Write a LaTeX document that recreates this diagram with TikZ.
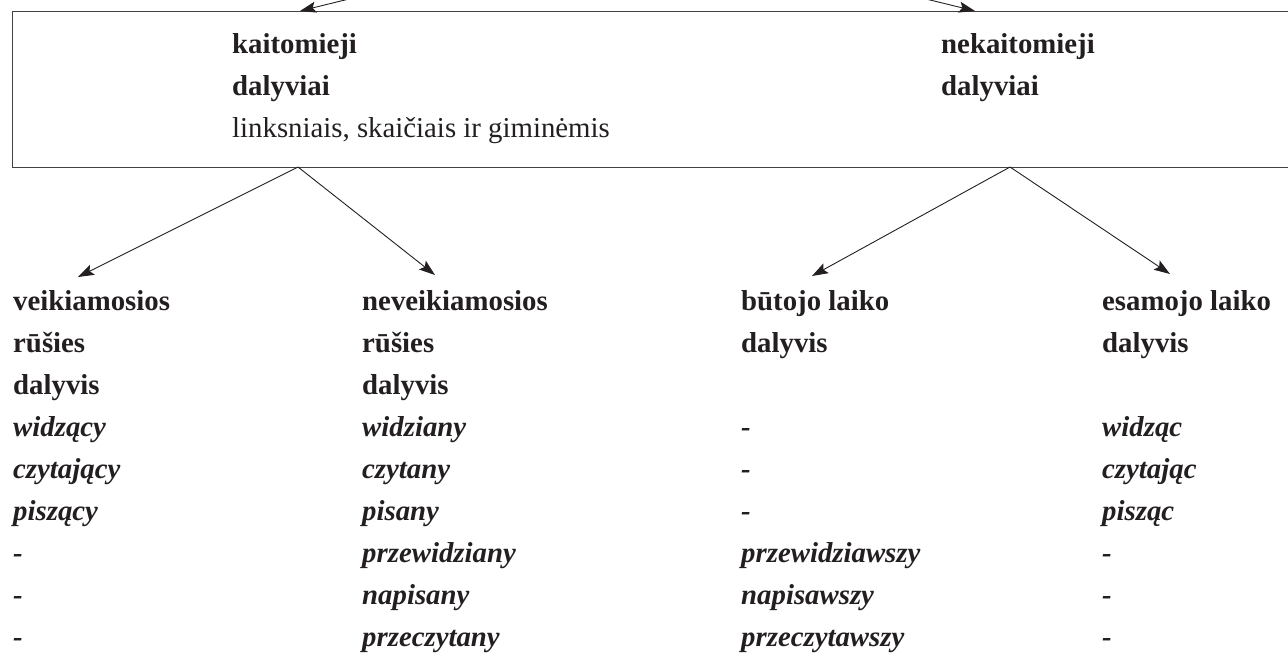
\documentclass[tikz,border=0pt]{standalone}
\usepackage{fontspec}
\setmainfont{Liberation Serif}
\usetikzlibrary{arrows.meta}
\definecolor{ink}{HTML}{231F20}
\begin{document}
\begin{tikzpicture}[x=1pt,y=-1pt,
  conn/.style={draw=ink, line width=0.9pt, -{Stealth[length=16pt,width=11pt,inset=3pt]}},
  boxst/.style={draw=ink!85, line width=1.4pt, anchor=north west, inner sep=0pt},
  head/.style={anchor=base west, inner sep=0pt, text=ink, font=\fontsize{28.8}{34}\selectfont\bfseries},
  plain/.style={anchor=base west, inner sep=0pt, text=ink, font=\fontsize{28.8}{34}\selectfont},
  ital/.style={anchor=base west, inner sep=0pt, text=ink, font=\fontsize{28.8}{34}\selectfont\bfseries\itshape}]
\useasboundingbox (0,0) rectangle (1288,654);
\clip (0,0) rectangle (1288,654);
% main box
\node[boxst, minimum width=1300pt, minimum height=156pt] (box) at (12,11) {};
% box texts
\node[head] (k1) at (232,53) {kaitomieji};
\node[head] (k2) at (232,95) {dalyviai};
\node[plain] (k3) at (232,137) {linksniais, skaičiais ir giminėmis};
\node[head] (n1) at (941,53) {nekaitomieji};
\node[head] (n2) at (941,95) {dalyviai};
% arrows from above
\coordinate (srcTL) at (349,-1);
\coordinate (tipTL) at (300,11);
\coordinate (srcTR) at (926,-1);
\coordinate (tipTR) at (975,11);
\draw[conn] (srcTL) -- (tipTL);
\draw[conn] (srcTR) -- (tipTR);
% arrows down
\coordinate (apexL) at (298,167);
\coordinate (apexR) at (1010,167);
\coordinate (tipA) at (78,277);
\coordinate (tipB) at (435,275);
\coordinate (tipC) at (812,276);
\coordinate (tipD) at (1170,274);
\draw[conn] (apexL) -- (tipA);
\draw[conn] (apexL) -- (tipB);
\draw[conn] (apexR) -- (tipC);
\draw[conn] (apexR) -- (tipD);
% column 1
\foreach \t [count=\i] in {veikiamosios, rūšies, dalyvis}
  \node[head] (a\i) at (13,{310+42*(\i-1)}) {\t};
\foreach \t [count=\i from 4] in {widzący, czytający, piszący, -, -, -}
  \node[ital] (a\i) at (13,{310+42*(\i-1)}) {\t};
% column 2
\foreach \t [count=\i] in {neveikiamosios, rūšies, dalyvis}
  \node[head] (b\i) at (362,{310+42*(\i-1)}) {\t};
\foreach \t [count=\i from 4] in {widziany, czytany, pisany, przewidziany, napisany, przeczytany}
  \node[ital] (b\i) at (362,{310+42*(\i-1)}) {\t};
% column 3
\foreach \t [count=\i] in {būtojo laiko, dalyvis}
  \node[head] (c\i) at (741,{310+42*(\i-1)}) {\t};
\foreach \t [count=\i from 4] in {-, -, -, przewidziawszy, napisawszy, przeczytawszy}
  \node[ital] (c\i) at (741,{310+42*(\i-1)}) {\t};
% column 4
\foreach \t [count=\i] in {esamojo laiko, dalyvis}
  \node[head] (d\i) at (1102,{310+42*(\i-1)}) {\t};
\foreach \t [count=\i from 4] in {widząc, czytając, pisząc, -, -, -}
  \node[ital] (d\i) at (1102,{310+42*(\i-1)}) {\t};
\end{tikzpicture}
\end{document}
